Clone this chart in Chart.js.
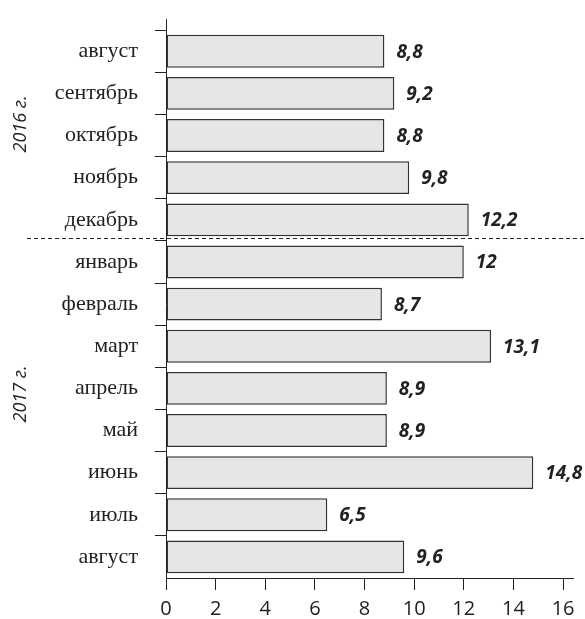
<!DOCTYPE html>
<html>
<head>
<meta charset="utf-8">
<script src="https://cdn.jsdelivr.net/npm/chart.js@4.4.1/dist/chart.umd.min.js"></script>
<style>
  html, body { margin: 0; padding: 0; background: #fff; }
  #wrap { width: 585px; height: 619px; }
</style>
</head>
<body>
<div id="wrap"><canvas id="chart"></canvas></div>
<script>
// months, top to bottom
const months = ['август', 'сентябрь', 'октябрь', 'ноябрь', 'декабрь',
                'январь', 'февраль', 'март', 'апрель', 'май', 'июнь', 'июль', 'август'];
const values = [8.8, 9.2, 8.8, 9.8, 12.2, 12, 8.7, 13.1, 8.9, 8.9, 14.8, 6.5, 9.6];
// year groups: label + first/last index
const years = [
    { label: '2016 г.', from: 0, to: 4 },
    { label: '2017 г.', from: 5, to: 12 }
];
const xTicks = [0, 2, 4, 6, 8, 10, 12, 14, 16];

const ink = '#222';

const extras = {
    id: 'extras',
    afterDatasetsDraw(chart) {
        const ctx = chart.ctx;
        const area = chart.chartArea;
        const y = chart.scales.y;
        const meta = chart.getDatasetMeta(0);

        // value labels
        ctx.save();
        ctx.fillStyle = ink;
        ctx.font = 'italic bold 19px "Open Sans"';
        ctx.textBaseline = 'middle';
        ctx.textAlign = 'left';
        meta.data.forEach((bar, i) => {
            ctx.fillText(String(values[i]).replace('.', ','), bar.x + 12, bar.y + 1);
        });

        // axis line stub above first category
        ctx.strokeStyle = ink;
        ctx.lineWidth = 1;
        ctx.beginPath();
        ctx.moveTo(area.left + 0.5, area.top - 11);
        ctx.lineTo(area.left + 0.5, area.top);
        ctx.stroke();

        // dashed separator between years
        const sep = Math.round((y.getPixelForValue(years[0].to) + y.getPixelForValue(years[1].from)) / 2) - 2.5;
        ctx.setLineDash([4, 3]);
        ctx.beginPath();
        ctx.moveTo(27, sep);
        ctx.lineTo(585, sep);
        ctx.stroke();
        ctx.setLineDash([]);

        // rotated year labels
        ctx.font = 'italic 18px "Open Sans"';
        ctx.textAlign = 'center';
        const centers = [124, 394];
        years.forEach((g, k) => {
            ctx.save();
            ctx.translate(21, centers[k]);
            ctx.rotate(-Math.PI / 2);
            ctx.fillText(g.label, 0, 0);
            ctx.restore();
        });
        ctx.restore();
    }
};

new Chart(document.getElementById('chart'), {
    type: 'bar',
    data: {
        labels: months,
        datasets: [{
            data: values,
            backgroundColor: '#e6e6e6',
            borderColor: '#333',
            borderWidth: 1.5,
            borderSkipped: false,
            barPercentage: 0.78,
            categoryPercentage: 1
        }]
    },
    options: {
        indexAxis: 'y',
        responsive: true,
        maintainAspectRatio: false,
        animation: false,
        layout: { padding: { top: 25, right: 12, left: 0, bottom: 0 } },
        plugins: { legend: { display: false }, tooltip: { enabled: false } },
        scales: {
            x: {
                min: 0,
                max: 16.4,
                afterBuildTicks(scale) {
                    scale.ticks = xTicks.map(v => ({ value: v }));
                },
                afterFit(scale) { scale.height = 41; },
                grid: { drawOnChartArea: false, drawTicks: true, tickLength: 12, color: ink },
                border: { display: true, color: ink, width: 1 },
                ticks: {
                    color: ink,
                    padding: 7,
                    font: { family: '"Open Sans"', size: 20 }
                }
            },
            y: {
                afterFit(scale) { scale.width = 166; },
                grid: {
                    offset: true,
                    drawOnChartArea: false,
                    drawTicks: true,
                    tickLength: 11,
                    color: c => c.type === 'tick' ? ink : 'rgba(0,0,0,0)'
                },
                border: { display: true, color: ink, width: 1 },
                ticks: {
                    color: ink,
                    padding: 17,
                    font: { family: '"Liberation Serif"', size: 22 }
                }
            }
        }
    },
    plugins: [extras]
});
</script>
</body>
</html>
